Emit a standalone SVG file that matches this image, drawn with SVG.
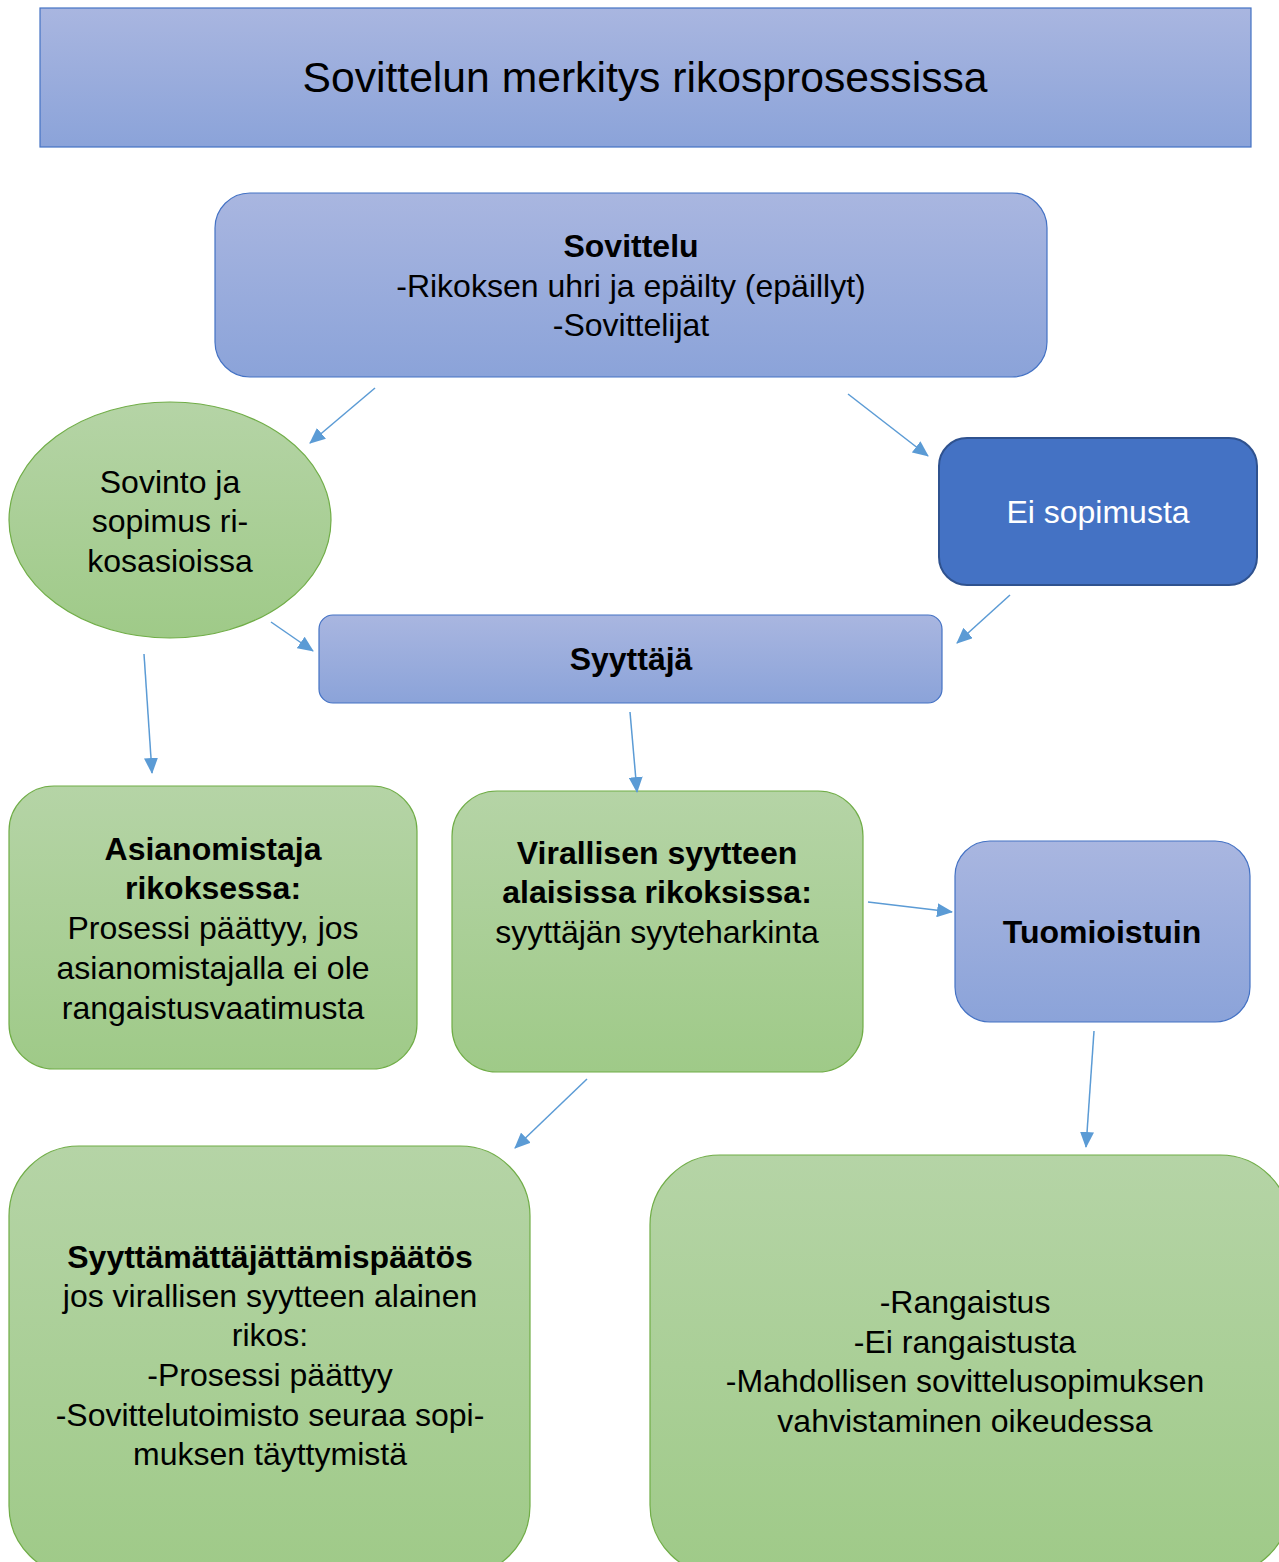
<svg xmlns="http://www.w3.org/2000/svg" width="1279" height="1562" viewBox="0 0 1279 1562">
<defs>
<linearGradient id="gb" x1="0" y1="0" x2="0" y2="1"><stop offset="0" stop-color="#a9b6e0"/><stop offset="1" stop-color="#8ba3d9"/></linearGradient>
<linearGradient id="gg" x1="0" y1="0" x2="0" y2="1"><stop offset="0" stop-color="#b5d4a6"/><stop offset="1" stop-color="#9fca88"/></linearGradient>
<marker id="ah" markerUnits="userSpaceOnUse" markerWidth="16" markerHeight="14" refX="15" refY="7" orient="auto"><path d="M0,0 L16,7 L0,14 Z" fill="#5b9bd5"/></marker>
<style>
.b{fill:url(#gb);stroke:#4472c4;stroke-width:1.2}
.g{fill:url(#gg);stroke:#70ad47;stroke-width:1.2}
text{font-family:"Liberation Sans",Arial,sans-serif;font-size:32px;fill:#000;text-anchor:middle}
.bd{font-weight:bold}
.c line{stroke:#5b9bd5;stroke-width:1.5;marker-end:url(#ah)}
</style>
</defs>
<rect width="1279" height="1562" fill="#fff"/>
<g id="title"><rect class="b" x="40" y="8" width="1211" height="139"/><text x="645" y="92" style="font-size:42.67px">Sovittelun merkitys rikosprosessissa</text></g>
<g id="sovittelu"><rect class="b" x="215" y="193" width="832" height="184" rx="35"/><text x="631" y="257" class="bd">Sovittelu</text><text x="631" y="297">-Rikoksen uhri ja epäilty (epäillyt)</text><text x="631" y="336">-Sovittelijat</text></g>
<g id="sovinto"><ellipse class="g" cx="170" cy="520" rx="161" ry="118"/><text x="170" y="493">Sovinto ja</text><text x="170" y="532">sopimus ri-</text><text x="170" y="572">kosasioissa</text></g>
<g id="ei"><rect x="939" y="438" width="318" height="147" rx="28" fill="#4472c4" stroke="#2f528f" stroke-width="2"/><text x="1098" y="523" style="fill:#fff">Ei sopimusta</text></g>
<g id="syyttaja"><rect class="b" x="319" y="615" width="623" height="88" rx="14"/><text x="631" y="670" class="bd">Syyttäjä</text></g>
<g id="asianomistaja"><rect class="g" x="9" y="786" width="408" height="283" rx="45"/><text x="213" y="860" class="bd">Asianomistaja</text><text x="213" y="899" class="bd">rikoksessa:</text><text x="213" y="939">Prosessi päättyy, jos</text><text x="213" y="979">asianomistajalla ei ole</text><text x="213" y="1019">rangaistusvaatimusta</text></g>
<g id="virallisen"><rect class="g" x="452" y="791" width="411" height="281" rx="45"/><text x="657" y="864" class="bd">Virallisen syytteen</text><text x="657" y="903" class="bd">alaisissa rikoksissa:</text><text x="657" y="943">syyttäjän syyteharkinta</text></g>
<g id="tuomioistuin"><rect class="b" x="955" y="841" width="295" height="181" rx="35"/><text x="1102" y="943" class="bd">Tuomioistuin</text></g>
<g id="syyttamatta"><rect class="g" x="9" y="1146" width="521" height="430" rx="70"/><text x="270" y="1268" class="bd">Syyttämättäjättämispäätös</text><text x="270" y="1307">jos virallisen syytteen alainen</text><text x="270" y="1346">rikos:</text><text x="270" y="1386">-Prosessi päättyy</text><text x="270" y="1426">-Sovittelutoimisto seuraa sopi-</text><text x="270" y="1465">muksen täyttymistä</text></g>
<g id="tulos"><rect class="g" x="650" y="1155" width="640" height="420" rx="70"/><text x="965" y="1313">-Rangaistus</text><text x="965" y="1353">-Ei rangaistusta</text><text x="965" y="1392">-Mahdollisen sovittelusopimuksen</text><text x="965" y="1432">vahvistaminen oikeudessa</text></g>
<g id="connectors" class="c">
<line x1="375" y1="388" x2="310" y2="443"/>
<line x1="848" y1="394" x2="928" y2="456"/>
<line x1="1010" y1="595" x2="957" y2="643"/>
<line x1="271" y1="622" x2="313" y2="651"/>
<line x1="144" y1="654" x2="152" y2="773"/>
<line x1="630" y1="712" x2="637" y2="792"/>
<line x1="868" y1="902" x2="952" y2="912"/>
<line x1="587" y1="1079" x2="515" y2="1148"/>
<line x1="1094" y1="1031" x2="1086" y2="1147"/>
</g>
</svg>
